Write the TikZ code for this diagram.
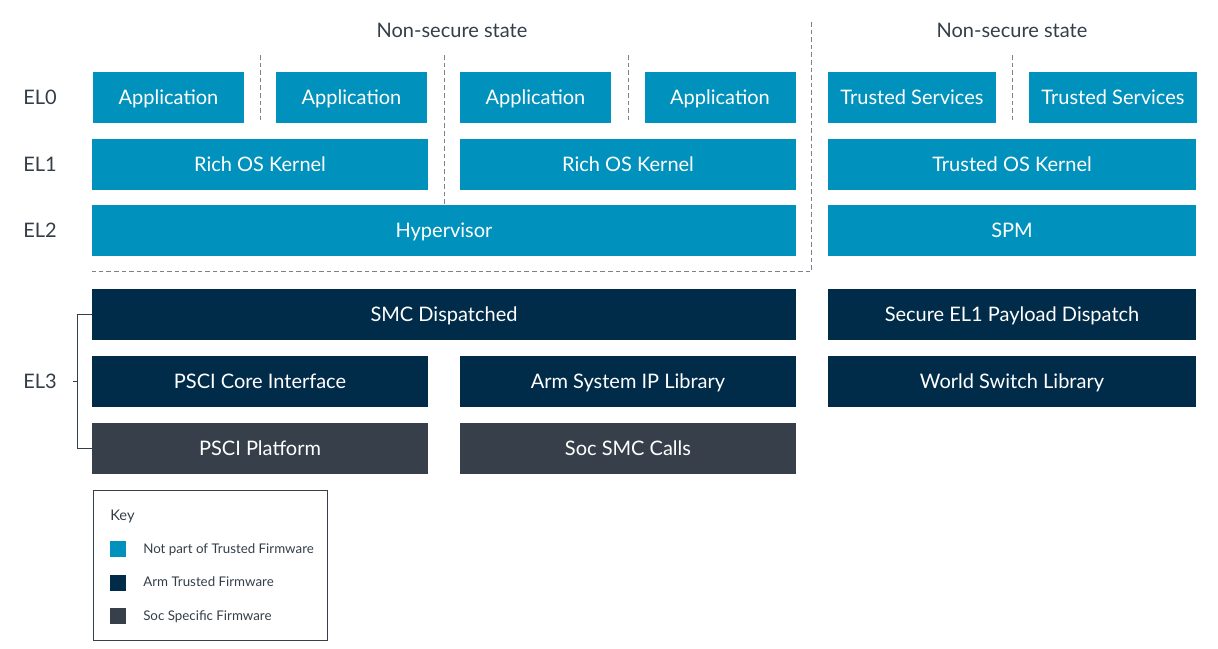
\documentclass[tikz,border=0pt]{standalone}
\usepackage{fontspec}
\setmainfont{Lato}
\usepackage{xcolor}
\usepackage{tikz}

\definecolor{nsblue}{HTML}{0092BC}
\definecolor{armnavy}{HTML}{002B49}
\definecolor{socgrey}{HTML}{363F4A}
\definecolor{txtgrey}{HTML}{333E48}
\definecolor{dashgrey}{HTML}{7A828C}

\begin{document}
\begin{tikzpicture}[x=0.75pt,y=-0.75pt]
\tikzstyle{layer} = [outer sep=0,inner sep=0, minimum height=38.25pt, text height=12pt, text depth=1.5pt, text=white, font=\fontsize{15}{18}\selectfont]
\tikzstyle{open} = [layer, fill=nsblue]
\tikzstyle{atf} = [layer, fill=armnavy]
\tikzstyle{soc} = [layer, fill=socgrey]
\tikzstyle{ellabel} = [anchor=west, inner sep=0, text height=12pt, text depth=1.5pt, text=txtgrey, font=\fontsize{15}{18}\selectfont]
\tikzstyle{divider} = [dashgrey, line width=0.75pt, dash pattern=on 3.4pt off 2.3pt]
\tikzstyle{keytext} = [anchor=west, inner sep=0, text height=7.5pt, text depth=1pt, text=txtgrey, font=\fontsize{10}{12}\selectfont]
\tikzstyle{swatch} = [inner sep=0, minimum size=12pt]

\useasboundingbox (0,0) rectangle (1218,649);

% state titles
\node(nstitle)[text=txtgrey, text height=12pt, text depth=1.5pt, font=\fontsize{15}{18}\selectfont] at (452,31) {Non-secure state};
\node(stitle)[text=txtgrey, text height=12pt, text depth=1.5pt, font=\fontsize{15}{18}\selectfont] at (1012,31) {Non-secure state};

% exception level labels
\node(el0)[ellabel] at (23,97.5) {EL0};
\node(el1)[ellabel] at (23,164.5) {EL1};
\node(el2)[ellabel] at (23,230.5) {EL2};
\node(el3)[ellabel] at (23,381.5) {EL3};

% EL0
\node(app1)[open, minimum width=113.25pt] at (168.5,97.5) {Application};
\node(app2)[open, minimum width=113.25pt] at (351.5,97.5) {Application};
\node(app3)[open, minimum width=113.25pt] at (535.5,97.5) {Application};
\node(app4)[open, minimum width=113.25pt] at (720,97.5) {Application};
\node(tsvc1)[open, minimum width=126pt] at (912,97.5) {Trusted Services};
\node(tsvc2)[open, minimum width=126pt] at (1113,97.5) {Trusted Services};

% EL1
\node(richos1)[open, minimum width=252pt] at (260,164.5) {Rich OS Kernel};
\node(richos2)[open, minimum width=252pt] at (628,164.5) {Rich OS Kernel};
\node(tos)[open, minimum width=276pt] at (1012,164.5) {Trusted OS Kernel};

% EL2
\node(hyp)[open, minimum width=528pt] at (444,230.5) {Hypervisor};
\node(spm)[open, minimum width=276pt] at (1012,230.5) {SPM};

% EL3
\node(smc)[atf, minimum width=528pt] at (444,314.5) {SMC Dispatched};
\node(spd)[atf, minimum width=276pt] at (1012,314.5) {Secure EL1 Payload Dispatch};
\node(pscicore)[atf, minimum width=252pt] at (260,381.5) {PSCI Core Interface};
\node(armip)[atf, minimum width=252pt] at (628,381.5) {Arm System IP Library};
\node(wsl)[atf, minimum width=276pt] at (1012,381.5) {World Switch Library};
\node(psciplat)[soc, minimum width=252pt] at (260,448) {PSCI Platform};
\node(socsmc)[soc, minimum width=252pt] at (628,448) {Soc SMC Calls};

% dashed separators
\coordinate(ns top) at (811,22);
\coordinate(ns corner) at (92,272);
\coordinate(d1) at (260,55);
\coordinate(d2) at (444,55);
\coordinate(d3) at (628,55);
\coordinate(d4) at (1012,55);
\draw [divider] (ns top) |- (ns corner);
\draw [divider] (d1) -- (d1 |- app1.south);
\draw [divider] (d2) -- (d2 |- hyp.north);
\draw [divider] (d3) -- (d3 |- app3.south);
\draw [divider] (d4) -- (d4 |- tsvc1.south);

% EL3 bracket
\coordinate(brk) at (77,381.5);
\draw [txtgrey, line width=0.75pt] (smc.west) -- ++(-15,0) |- (psciplat.west);
\draw [txtgrey, line width=0.75pt] ([xshift=12pt]el3.east) -- (brk);

% key
\draw [socgrey, line width=0.75pt] (93,490) rectangle (327,640);
\node(keytitle)[keytext, font=\fontsize{11}{13}\selectfont] at (110,516) {Key};
\node(keyns)[swatch, fill=nsblue] at (118,549) {};
\node(keyatf)[swatch, fill=armnavy] at (118,582.5) {};
\node(keysoc)[swatch, fill=socgrey] at (118,616) {};
\node[keytext] at (143,549) {Not part of Trusted Firmware};
\node[keytext] at (143,582.5) {Arm Trusted Firmware};
\node[keytext] at (143,616) {Soc Specific Firmware};
\end{tikzpicture}
\end{document}
